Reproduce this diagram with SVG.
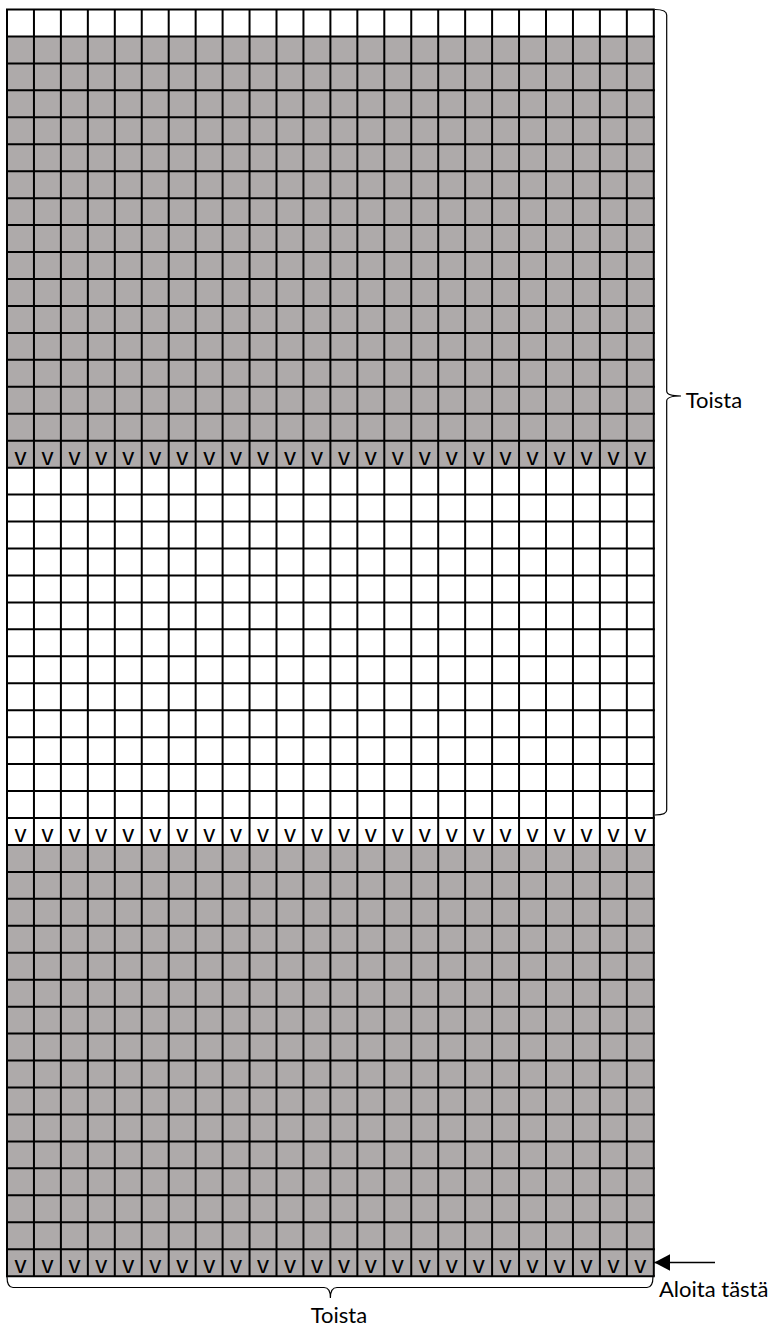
<svg xmlns="http://www.w3.org/2000/svg" width="774" height="1329" viewBox="0 0 774 1329">
<style>
.gl{stroke:#000;stroke-width:2;fill:none}
.br{stroke:#000;stroke-width:1.2;fill:none}
.v{font-family:"Liberation Sans",Arial,sans-serif;font-size:24px;fill:#000;text-anchor:middle}
.lbl{font-family:Lato,"Liberation Sans",sans-serif;font-size:22px;fill:#000}
</style>
<defs>
<marker id="ah" markerWidth="16" markerHeight="17" refX="16" refY="8.5" orient="auto" markerUnits="userSpaceOnUse">
<path d="M0,0 L16,8.5 L0,17 Z" fill="#000"/>
</marker>
</defs>
<rect width="774" height="1329" fill="#fff"/>
<g id="fills">
<rect x="7" y="36.45" width="646.8" height="431.2" fill="#AEAAAA"/>
<rect x="7" y="844.95" width="646.8" height="431.2" fill="#AEAAAA"/>
</g>
<g id="grid" class="gl">
<path d="M7,9.5V1276.15 M33.95,9.5V1276.15 M60.9,9.5V1276.15 M87.85,9.5V1276.15 M114.8,9.5V1276.15 M141.75,9.5V1276.15 M168.7,9.5V1276.15 M195.65,9.5V1276.15 M222.6,9.5V1276.15 M249.55,9.5V1276.15 M276.5,9.5V1276.15 M303.45,9.5V1276.15 M330.4,9.5V1276.15 M357.35,9.5V1276.15 M384.3,9.5V1276.15 M411.25,9.5V1276.15 M438.2,9.5V1276.15 M465.15,9.5V1276.15 M492.1,9.5V1276.15 M519.05,9.5V1276.15 M546,9.5V1276.15 M572.95,9.5V1276.15 M599.9,9.5V1276.15 M626.85,9.5V1276.15 M653.8,9.5V1276.15"/>
<path d="M6,9.5H654.8 M6,36.45H654.8 M6,63.4H654.8 M6,90.35H654.8 M6,117.3H654.8 M6,144.25H654.8 M6,171.2H654.8 M6,198.15H654.8 M6,225.1H654.8 M6,252.05H654.8 M6,279H654.8 M6,305.95H654.8 M6,332.9H654.8 M6,359.85H654.8 M6,386.8H654.8 M6,413.75H654.8 M6,440.7H654.8 M6,467.65H654.8 M6,494.6H654.8 M6,521.55H654.8 M6,548.5H654.8 M6,575.45H654.8 M6,602.4H654.8 M6,629.35H654.8 M6,656.3H654.8 M6,683.25H654.8 M6,710.2H654.8 M6,737.15H654.8 M6,764.1H654.8 M6,791.05H654.8 M6,818H654.8 M6,844.95H654.8 M6,871.9H654.8 M6,898.85H654.8 M6,925.8H654.8 M6,952.75H654.8 M6,979.7H654.8 M6,1006.65H654.8 M6,1033.6H654.8 M6,1060.55H654.8 M6,1087.5H654.8 M6,1114.45H654.8 M6,1141.4H654.8 M6,1168.35H654.8 M6,1195.3H654.8 M6,1222.25H654.8 M6,1249.2H654.8 M6,1276.15H654.8"/>
</g>
<g id="stitches">
<text class="v" y="464.7" x="20.48 47.43 74.38 101.33 128.28 155.23 182.18 209.13 236.08 263.03 289.98 316.93 343.88 370.83 397.78 424.73 451.68 478.63 505.58 532.53 559.48 586.43 613.38 640.33">vvvvvvvvvvvvvvvvvvvvvvvv</text>
<text class="v" y="842" x="20.48 47.43 74.38 101.33 128.28 155.23 182.18 209.13 236.08 263.03 289.98 316.93 343.88 370.83 397.78 424.73 451.68 478.63 505.58 532.53 559.48 586.43 613.38 640.33">vvvvvvvvvvvvvvvvvvvvvvvv</text>
<text class="v" y="1273.2" x="20.48 47.43 74.38 101.33 128.28 155.23 182.18 209.13 236.08 263.03 289.98 316.93 343.88 370.83 397.78 424.73 451.68 478.63 505.58 532.53 559.48 586.43 613.38 640.33">vvvvvvvvvvvvvvvvvvvvvvvv</text>
</g>
<g id="brace-right">
<path class="br" d="M655,9.5 Q666.7,9.5 666.7,15 V391 Q666.7,396 681,396 Q666.7,396 666.7,401 V810 Q666.7,815 655,815"/>
<text class="lbl" x="685.7" y="408.3">Toista</text>
</g>
<g id="brace-bottom">
<path class="br" d="M7,1276.5 Q7,1287.5 13,1287.5 H324 Q330.4,1287.5 330.4,1298 Q330.4,1287.5 337,1287.5 H647 Q653,1287.5 653,1276.5"/>
<text class="lbl" x="310.7" y="1323.3">Toista</text>
</g>
<g id="connectors">
<line x1="715" y1="1262.5" x2="654.3" y2="1262.5" stroke="#000" stroke-width="1.6" marker-end="url(#ah)"/>
</g>
<g id="start-label">
<text class="lbl" x="659" y="1296.7">Aloita tästä</text>
</g>
</svg>
